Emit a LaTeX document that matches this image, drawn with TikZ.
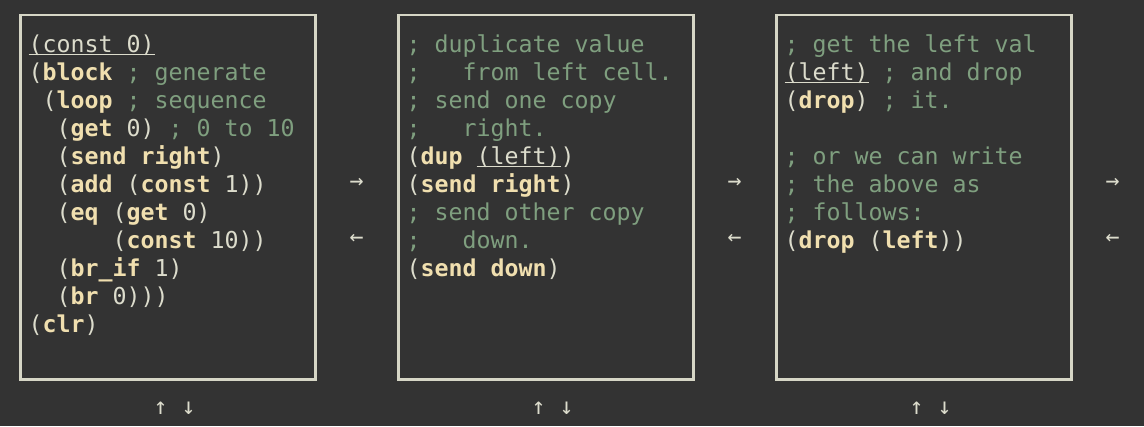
\documentclass[tikz,border=0pt]{standalone}
\usepackage{fontspec}
\setmonofont{DejaVu Sans Mono}
\usetikzlibrary{positioning}

\definecolor{termbg}{HTML}{333333}
\definecolor{termfg}{HTML}{DCDCCC}
\definecolor{kwfg}{HTML}{F0DFAF}
\definecolor{cmfg}{HTML}{7F9F7F}
\definecolor{framefg}{HTML}{D6D6C6}

% one terminal cell is 14pt wide, 28pt high
\newlength\chw
\setlength\chw{14pt}
\newcommand\kw[1]{{\bfseries\color{kwfg}#1}}
\newcommand\cm[1]{{\color{cmfg}#1}}
\newcommand\sk[1]{\hspace*{#1\chw}}
\newcommand\ulin[1]{\sbox0{#1}\rlap{\rule[-3pt]{\wd0}{1.5pt}}\usebox0}

\tikzset{
  term/.style={font=\fontsize{23.25}{28}\selectfont\ttfamily\frenchspacing, text=termfg},
  cell/.style={draw=framefg, line width=2.4pt, minimum width=295pt, minimum height=364.5pt,
    inner sep=0pt, outer sep=0pt, anchor=north west},
  code/.style={term, align=left, inner sep=0pt, anchor=north west},
  glyph/.style={term, inner sep=0pt}
}

\begin{document}
\begin{tikzpicture}[x=1pt, y=-1pt]
\fill[termbg] (0,0) rectangle (1144,426);
\useasboundingbox (0,0) rectangle (1144,426);
% Frames, side arrows and bottom arrows of the three cells
\foreach \n/\x in {A/20.5, B/398.5, C/776.5} {
  \node[cell] (cell\n) at (\x,15) {};
  \node[glyph] (right\n) at (\x+336,183) {→};
  \node[glyph] (left\n) at (\x+336,239) {←};
  \node[glyph] (up\n) at (\x+140,408.5) {↑};
  \node[glyph] (down\n) at (\x+168,408.5) {↓};
}
% Program of the first cell
\node[code] (codeA) at (28.5,32.4) {\strut\ulin{(const 0)}\\
(\kw{block} \cm{; generate}\\
\sk{1}(\kw{loop} \cm{; sequence}\\
\sk{2}(\kw{get} 0) \cm{; 0 to 10}\\
\sk{2}(\kw{send right})\\
\sk{2}(\kw{add} (\kw{const} 1))\\
\sk{2}(\kw{eq} (\kw{get} 0)\\
\sk{6}(\kw{const} 10))\\
\sk{2}(\kw{br\_if} 1)\\
\sk{2}(\kw{br} 0)))\\
(\kw{clr})};
% Program of the second cell
\node[code] (codeB) at (406.5,32.4) {\strut\cm{; duplicate value}\\
\cm{;\sk{3}from left cell.}\\
\cm{; send one copy}\\
\cm{;\sk{3}right.}\\
(\kw{dup} \ulin{(left)})\\
(\kw{send right})\\
\cm{; send other copy}\\
\cm{;\sk{3}down.}\\
(\kw{send down})};
% Program of the third cell
\node[code] (codeC) at (784.5,32.4) {\strut\cm{; get the left val}\\
\ulin{(left)} \cm{; and drop}\\
(\kw{drop}) \cm{; it.}\\
\strut\\
\cm{; or we can write}\\
\cm{; the above as}\\
\cm{; follows:}\\
(\kw{drop} (\kw{left}))};
\end{tikzpicture}
\end{document}
